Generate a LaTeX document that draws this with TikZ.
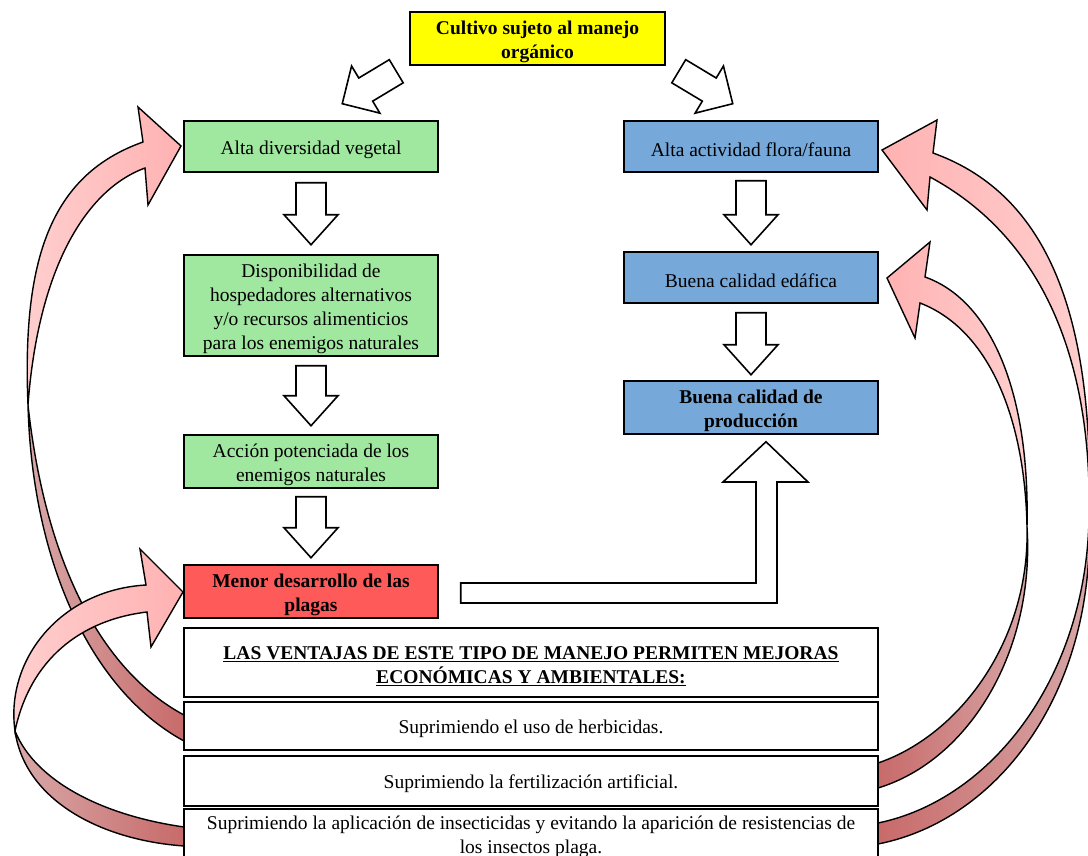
\documentclass[tikz,border=0pt]{standalone}
\usepackage{fontspec}
\setmainfont{Liberation Serif}
\usetikzlibrary{calc}
\definecolor{gfill}{HTML}{A0E8A0}
\definecolor{bfill}{HTML}{76A8DA}
\definecolor{rfill}{HTML}{FF5A5A}
\definecolor{yfill}{HTML}{FFFF00}
\definecolor{pinkA}{HTML}{FFB2B2}
\definecolor{pinkB}{HTML}{FFCFCF}
\definecolor{roseA}{HTML}{C86A6A}
\definecolor{roseB}{HTML}{D8A8A8}
\newcommand{\bodyfont}{\fontsize{19.5}{24}\selectfont}
\newcommand{\lft}{\rule{0pt}{19.5pt}}
\tikzset{
  box/.style={draw=black, line width=1.5pt, rectangle, align=center, inner sep=0pt,
    font=\bodyfont},
  lowered/.style={execute at begin node={\lft}},
  gbox/.style={box, fill=gfill, minimum width=254pt},
  bbox/.style={box, fill=bfill, minimum width=254pt},
  wbox/.style={box, fill=white, minimum width=694pt},
  boldtext/.style={font=\bodyfont\bfseries},
  barrow/.style={draw=black, fill=white, line width=1.6pt, line join=miter},
  frontL/.style={draw=black, line width=1.4pt, line join=miter, left color=pinkB, right color=pinkA},
  frontR/.style={draw=black, line width=1.4pt, line join=miter, left color=pinkA, right color=pinkB},
  backL/.style={draw=black, line width=1.4pt, line join=round, left color=roseB, right color=roseA},
  backR/.style={draw=black, line width=1.4pt, line join=round, left color=roseA, right color=roseB},
}
% #1 start coordinate, #2 angle, #3 half shaft, #4 half head, #5 length, #6 head length
\newcommand{\blockarrow}[6]{%
  \begin{scope}[shift={(#1)}, rotate=#2]
    \draw[barrow] (0,-#3) -- (#5-#6,-#3) -- (#5-#6,-#4) -- (#5,0) -- (#5-#6,#4) -- (#5-#6,#3) -- (0,#3) -- cycle;
  \end{scope}}
\begin{document}
\begin{tikzpicture}[x=1pt,y=-1pt]
\useasboundingbox (0,0) rectangle (1088,856);
\clip (0,0) rectangle (1088,856);

% ---- curved ribbon arrows (left) ----
\draw[backL] (184,715) .. controls (100,670) and (45,560) .. (28,405)
   .. controls (32,560) and (90,690) .. (184,741) -- cycle;
\draw[frontL] (28,405) .. controls (22,260) and (50,175) .. (143,142) -- (138,107) -- (181,146)
   -- (148,205) -- (145,168) .. controls (85,190) and (38,270) .. (28,405) -- cycle;
\draw[backL] (15,731) .. controls (25,800) and (100,840) .. (184,846) -- (184,827)
   .. controls (100,815) and (35,780) .. (15,731) -- cycle;
\draw[frontL] (15,731) .. controls (5,660) and (60,590) .. (146,585) -- (140,549) -- (183,592)
   -- (151,647) -- (147,612) .. controls (80,620) and (30,660) .. (15,731) -- cycle;

% ---- curved ribbon arrows (right) ----
\draw[backR] (1027,527) .. controls (1030,640) and (960,735) .. (878,763) -- (878,788)
   .. controls (970,760) and (1035,650) .. (1027,527) -- cycle;
\draw[frontR] (1027,527) .. controls (1025,420) and (990,330) .. (920,303) -- (915,338) -- (887,278)
   -- (930,242) -- (925,277) .. controls (990,300) and (1030,390) .. (1027,527) -- cycle;
\draw[backR] (1089,520) .. controls (1085,680) and (990,800) .. (878,823) -- (878,844)
   .. controls (1000,820) and (1095,690) .. (1089,520) -- cycle;
\draw[frontR] (1089,520) .. controls (1092,400) and (1065,250) .. (930,177) -- (927,210) -- (882,150)
   -- (937,120) -- (933,153) .. controls (1050,195) and (1095,320) .. (1089,520) -- cycle;

% ---- boxes ----
\node[box, fill=yfill, minimum width=255pt, minimum height=53pt, boldtext]
  (top) at (537.5,38.5) {\lft Cultivo sujeto al manejo\\orgánico};
\node[gbox, lowered, minimum height=51pt] (g1) at (311,146.5) {Alta diversidad vegetal};
\node[gbox, minimum height=101pt] (g2) at (311,305.5) {\lft Disponibilidad de\\hospedadores alternativos\\y/o recursos alimenticios\\para los enemigos naturales};
\node[gbox, minimum height=53pt] (g3) at (311,461.5) {\lft Acción potenciada de los\\enemigos naturales};
\node[box, fill=rfill, minimum width=254pt, minimum height=53pt, boldtext]
  (red) at (311,591.5) {\lft Menor desarrollo de las\\plagas};
\node[bbox, lowered, minimum height=51pt] (b1) at (751,146.5) {Alta actividad flora/fauna};
\node[bbox, lowered, minimum height=51pt] (b2) at (751,277.5) {Buena calidad edáfica};
\node[bbox, minimum height=53pt, boldtext] (b3) at (751,407.5) {\lft Buena calidad de\\producción};
\node[wbox, minimum height=69pt, boldtext] (hdr) at (531,662.5)
  {\lft\underline{LAS VENTAJAS DE ESTE TIPO DE MANEJO PERMITEN MEJORAS}\\\underline{ECONÓMICAS Y AMBIENTALES:}};
\node[wbox, lowered, minimum height=48pt] (s1) at (531,726) {Suprimiendo el uso de herbicidas.};
\node[wbox, lowered, minimum height=50pt] (s2) at (531,781) {Suprimiendo la fertilización artificial.};
\node[wbox, minimum height=56pt] (s3) at (531,837) {Suprimiendo la aplicación de insecticidas y evitando la aparición de resistencias de\\los insectos plaga.};

% ---- block arrows ----
\coordinate (tl) at ($(top.south west)+(-13,5.5)$);
\coordinate (tr) at ($(top.south east)+(13,5.5)$);
\blockarrow{tl}{211}{13.5}{27.5}{63}{27.4}
\blockarrow{tr}{-31}{13.5}{27.5}{63}{27.4}
\coordinate (d1) at ($(g1.south)+(0,10)$);
\coordinate (d2) at ($(g2.south)+(0,9)$);
\coordinate (d3) at ($(g3.south)+(0,8)$);
\coordinate (d4) at ($(b1.south)+(0,8)$);
\coordinate (d5) at ($(b2.south)+(0,9)$);
\blockarrow{d1}{-90}{15}{27}{62}{30}
\blockarrow{d2}{-90}{15}{27}{60}{30}
\blockarrow{d3}{-90}{15}{27}{61}{30}
\blockarrow{d4}{-90}{15}{27}{64}{30}
\blockarrow{d5}{-90}{15}{27}{62}{30}
% L-shaped arrow from red box to production box
\draw[barrow] ($(red.east)+(22,-8.5)$) -- (756,583) -- (756,482) -- (723,482) -- ($(b3.south)+(15,7)$)
  -- (808,482) -- (777,482) -- (777,603) -- ($(red.east)+(22,11.5)$) -- cycle;
\end{tikzpicture}
\end{document}
